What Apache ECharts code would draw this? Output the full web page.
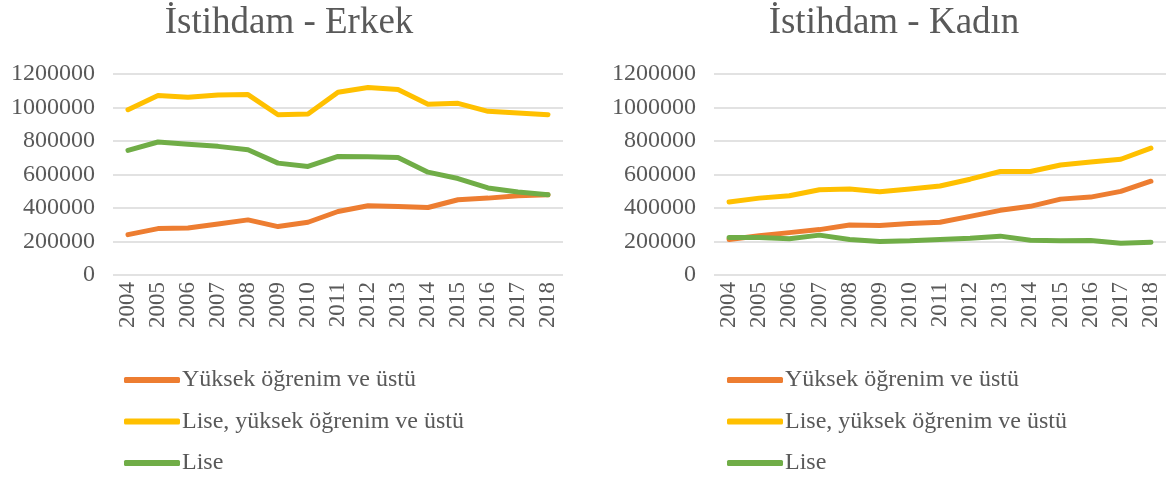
<!DOCTYPE html>
<html>
<head>
<meta charset="utf-8">
<script src="https://cdn.jsdelivr.net/npm/echarts@6/dist/echarts.min.js"></script>
<style>
html,body{margin:0;padding:0;background:#fff;}
#c{width:1168px;height:479px;}
</style>
</head>
<body>
<div id="c"></div>
<script>
const years = ['2004','2005','2006','2007','2008','2009','2010','2011','2012','2013','2014','2015','2016','2017','2018'];
const seriesNames = ['Yüksek öğrenim ve üstü', 'Lise, yüksek öğrenim ve üstü', 'Lise'];
const titles = ['İstihdam - Erkek', 'İstihdam - Kadın'];

// Erkek (men)
const erkekYuksek = [241000, 277000, 281000, 305000, 329000, 289000, 315000, 379000, 413000, 409000, 403000, 449000, 459000, 473000, 479000];
const erkekLiseYuksek = [987000, 1071000, 1061000, 1075000, 1077000, 957000, 961000, 1091000, 1119000, 1107000, 1019000, 1025000, 977000, 967000, 957000];
const erkekLise = [744000, 794000, 780000, 768000, 748000, 668000, 648000, 708000, 706000, 702000, 614000, 576000, 520000, 495000, 479000];

// Kadın (women)
const kadinYuksek = [212000, 234000, 253000, 271000, 299000, 295000, 307000, 315000, 350000, 386000, 410000, 453000, 465000, 499000, 560000];
const kadinLiseYuksek = [436000, 459000, 473000, 509000, 513000, 497000, 513000, 531000, 572000, 618000, 618000, 657000, 675000, 691000, 758000];
const kadinLise = [224000, 224000, 216000, 238000, 212000, 200000, 204000, 212000, 220000, 232000, 208000, 204000, 206000, 190000, 196000];

const colors = ['#ED7D31', '#FFC000', '#70AD47'];
const font = '"Liberation Serif", "Times New Roman", serif';
const txt = '#595959';

const grids = [
  {left: 113, top: 74, width: 450, height: 201},
  {left: 714, top: 74, width: 452, height: 201}
];
const titleCenters = [284, 889];
const legendLefts = [124, 727];

const chart = echarts.init(document.getElementById('c'), null, {renderer: 'canvas'});

const option = {
  animation: false,
  backgroundColor: '#fff',
  color: colors,
  title: titles.map((t, i) => ({
    text: t,
    left: titleCenters[i],
    textAlign: 'center',
    top: 0,
    textStyle: {fontFamily: font, fontSize: 37, fontWeight: 'normal', color: txt}
  })),
  legend: legendLefts.map(l => ({
    data: seriesNames,
    orient: 'vertical',
    left: l,
    top: 368,
    padding: 0,
    height: 140,
    itemWidth: 56,
    itemHeight: 6,
    itemGap: 17.5,
    icon: 'roundRect',
    selectedMode: false,
    textStyle: {fontFamily: font, fontSize: 24, color: txt, padding: [0, 0, 0, -3]}
  })),
  grid: grids,
  xAxis: grids.map((g, i) => ({
    type: 'category',
    gridIndex: i,
    data: years,
    boundaryGap: true,
    axisLine: {show: false},
    axisTick: {show: false},
    axisLabel: {rotate: 90, fontFamily: font, fontSize: 23, color: txt, margin: 7}
  })),
  yAxis: grids.map((g, i) => ({
    type: 'value',
    gridIndex: i,
    min: 0,
    max: 1200000,
    interval: 200000,
    axisLine: {show: false},
    axisTick: {show: false},
    splitLine: {lineStyle: {color: '#D9D9D9', width: 1.5}},
    axisLabel: {fontFamily: font, fontSize: 24, color: txt, margin: 18, formatter: v => String(v)}
  })),
  series: []
};

const dataSets = [
  [erkekYuksek, erkekLiseYuksek, erkekLise],
  [kadinYuksek, kadinLiseYuksek, kadinLise]
];
dataSets.forEach((sets, gi) => {
  sets.forEach((d, si) => {
    option.series.push({
      name: seriesNames[si],
      type: 'line',
      xAxisIndex: gi,
      yAxisIndex: gi,
      data: d,
      symbol: 'none',
      lineStyle: {width: 5, color: colors[si], cap: 'round', join: 'round'},
      itemStyle: {color: colors[si]}
    });
  });
});

chart.setOption(option);
</script>
</body>
</html>
